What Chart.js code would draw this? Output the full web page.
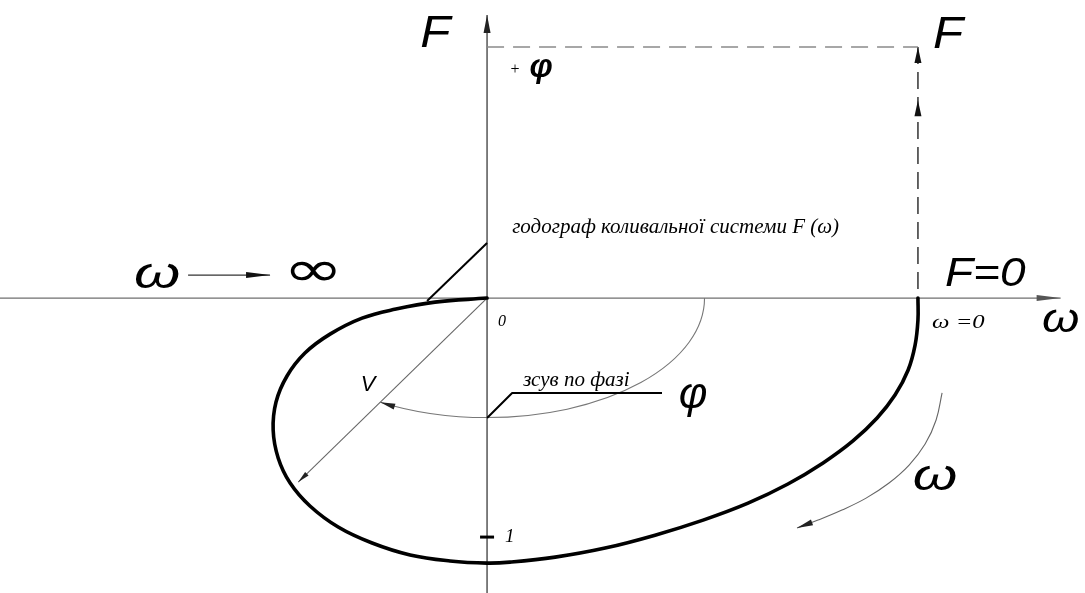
<!DOCTYPE html>
<html lang="uk">
<head>
<meta charset="utf-8">
<title>Годограф коливальної системи</title>
<script src="https://cdn.jsdelivr.net/npm/chart.js@4.4.1/dist/chart.umd.min.js"></script>
<style>
  html, body { margin: 0; padding: 0; background: #ffffff; }
  #wrap { position: relative; width: 1085px; height: 593px; }
</style>
</head>
<body>
<div id="wrap"><canvas id="hodograph"></canvas></div>
<script>
// Hodograph F(jω) of the oscillating system, traced from ω = 0
// (on the positive real axis) to ω → ∞ (the origin).
const hodographRe = [1.803, 1.803, 1.791, 1.762, 1.707, 1.632, 1.531, 1.406, 1.259, 1.092, 0.904,
                     0.703, 0.494, 0.285, 0.096, 0.000,
                     -0.155, -0.322, -0.481, -0.623, -0.741, -0.824, -0.874, -0.895, -0.883,
                     -0.837, -0.762, -0.657, -0.523, -0.381, -0.218, 0.000];
const hodographIm = [0.000, -0.092, -0.197, -0.301, -0.406, -0.502, -0.598, -0.690, -0.778, -0.858, -0.929,
                     -0.992, -1.046, -1.084, -1.105, -1.109,
                     -1.100, -1.075, -1.025, -0.958, -0.870, -0.774, -0.669, -0.552, -0.435,
                     -0.326, -0.230, -0.151, -0.084, -0.046, -0.017, 0.000];

// Arc beside the curve showing the direction of increasing ω
const omegaArcRe = [1.904, 1.879, 1.833, 1.766, 1.682, 1.586, 1.485, 1.385, 1.297];
const omegaArcIm = [-0.397, -0.510, -0.611, -0.699, -0.774, -0.837, -0.887, -0.929, -0.962];

// F at ω = 0 and its projection onto the vertical axis
const fAtZero = 1.803;
const fProjection = 1.05;

// Radius vector V to a point of the hodograph
const vectorV = [-0.79, -0.77];

// Unit mark on the imaginary axis
const unitTicks = [-1];
const unitTickLabels = ['1'];

const pts = (xs, ys) => xs.map((x, i) => ({ x, y: ys[i] }));

const BIG = 'italic 400 44px "Liberation Sans"';
const SERIF = 'italic 400 21px "Liberation Serif"';

function arrowHead(ctx, tx, ty, fx, fy, len, half, color) {
  const a = Math.atan2(ty - fy, tx - fx);
  ctx.save();
  ctx.translate(tx, ty);
  ctx.rotate(a);
  ctx.fillStyle = color;
  ctx.beginPath();
  ctx.moveTo(0, 0);
  ctx.lineTo(-len, -half);
  ctx.lineTo(-len, half);
  ctx.closePath();
  ctx.fill();
  ctx.restore();
}

function line(ctx, coords, color, width) {
  ctx.save();
  ctx.strokeStyle = color;
  ctx.lineWidth = width;
  ctx.lineJoin = 'round';
  ctx.beginPath();
  coords.forEach(([x, y], i) => (i ? ctx.lineTo(x, y) : ctx.moveTo(x, y)));
  ctx.stroke();
  ctx.restore();
}

// Axes with arrows, the phase arc, leader lines and all captions
const diagramPlugin = {
  id: 'diagram',
  beforeDatasetsDraw(chart, args, o) {
    const { ctx } = chart;
    const X = v => chart.scales.x.getPixelForValue(v);
    const Y = v => chart.scales.y.getPixelForValue(v);

    // real axis
    line(ctx, [[X(chart.scales.x.min), Y(0)], [X(o.axisEnd[0]), Y(0)]], '#6f6f6f', 1.3);
    arrowHead(ctx, X(o.axisEnd[0]), Y(0), X(0), Y(0), 24, 3, '#555');
    // imaginary axis
    line(ctx, [[X(0), Y(chart.scales.y.min)], [X(0), Y(o.axisEnd[1])]], '#555', 1.5);
    arrowHead(ctx, X(0), Y(o.axisEnd[1]), X(0), Y(0), 18, 3.5, '#222');

    // phase shift arc from the real axis to the vector V
    const cx = X(0), cy = Y(0);
    const rx = X(o.phaseArc[0]) - cx, ry = Y(-o.phaseArc[1]) - cy;
    const vx = X(vectorV[0]) - cx, vy = Y(vectorV[1]) - cy;
    const end = Math.atan2(vy * rx, vx * ry);
    ctx.save();
    ctx.strokeStyle = '#777';
    ctx.lineWidth = 1.1;
    ctx.beginPath();
    ctx.ellipse(cx, cy, rx, ry, 0, 0, end);
    ctx.stroke();
    ctx.restore();
    const ex = cx + rx * Math.cos(end), ey = cy + ry * Math.sin(end);
    const tx = -rx * Math.sin(end), ty = ry * Math.cos(end);
    arrowHead(ctx, ex, ey, ex - tx, ey - ty, 15, 3, '#222');
  },
  afterDatasetsDraw(chart, args, o) {
    const { ctx } = chart;
    const X = v => chart.scales.x.getPixelForValue(v);
    const Y = v => chart.scales.y.getPixelForValue(v);

    // arrows on the F vector
    o.fArrows.forEach(v => arrowHead(ctx, X(fAtZero), Y(v), X(fAtZero), Y(0), 16, 3.5, '#111'));

    // arrow of the ω arc
    const n = omegaArcRe.length;
    arrowHead(ctx, X(omegaArcRe[n - 1]), Y(omegaArcIm[n - 1]),
              X(omegaArcRe[n - 2]), Y(omegaArcIm[n - 2]), 16, 3, '#222');

    // arrow at the end of V
    arrowHead(ctx, X(vectorV[0]), Y(vectorV[1]), X(0), Y(0), 12, 2.5, '#222');

    // ω → ∞ arrow
    const a = o.infArrow;
    line(ctx, [[X(a[0]), Y(a[2])], [X(a[1]), Y(a[2])]], '#333', 1.2);
    arrowHead(ctx, X(a[1]), Y(a[2]), X(a[0]), Y(a[2]), 24, 3, '#111');

    // leader lines
    o.leaders.forEach(l => line(ctx, l.map(([x, y]) => [X(x), Y(y)]), '#000', 2));

    // unit mark
    unitTicks.forEach(t => line(ctx, [[X(0) - 7, Y(t)], [X(0) + 7, Y(t)]], '#000', 3));

    // captions
    o.labels.forEach(l => {
      ctx.save();
      ctx.font = l.font;
      ctx.fillStyle = '#000';
      ctx.textAlign = l.align || 'left';
      ctx.textBaseline = l.baseline || 'alphabetic';
      ctx.translate(X(l.x), Y(l.y));
      ctx.scale(l.sx || 1, l.sy || 1);
      ctx.fillText(l.text, 0, 0);
      ctx.restore();
    });
    unitTicks.forEach((t, i) => {
      ctx.save();
      ctx.font = 'italic 400 19px "Liberation Serif"';
      ctx.fillStyle = '#000';
      ctx.textBaseline = 'middle';
      ctx.fillText(unitTickLabels[i], X(0) + 18, Y(t));
      ctx.restore();
    });
  }
};

new Chart(document.getElementById('hodograph'), {
  type: 'scatter',
  data: {
    datasets: [
      { // hodograph F(ω)
        data: pts(hodographRe, hodographIm),
        showLine: true, tension: 0.4, borderColor: '#000', borderWidth: 3.6,
        pointRadius: 0, borderCapStyle: 'round'
      },
      { // direction of increasing ω
        data: pts(omegaArcRe, omegaArcIm),
        showLine: true, tension: 0.4, borderColor: '#666', borderWidth: 1.1, pointRadius: 0
      },
      { // projection of F
        data: [{ x: 0, y: fProjection }, { x: fAtZero, y: fProjection }],
        showLine: true, borderColor: '#8a8a8a', borderWidth: 1.5, borderDash: [17, 9], pointRadius: 0
      },
      { // vector F at ω = 0
        data: [{ x: fAtZero, y: fProjection }, { x: fAtZero, y: 0 }],
        showLine: true, borderColor: '#333', borderWidth: 1.5, borderDash: [17, 8], pointRadius: 0
      },
      { // radius vector V
        data: [{ x: 0, y: 0 }, { x: vectorV[0], y: vectorV[1] }],
        showLine: true, borderColor: '#666', borderWidth: 1.1, pointRadius: 0
      }
    ]
  },
  options: {
    responsive: true,
    maintainAspectRatio: false,
    animation: false,
    events: [],
    layout: { padding: 0 },
    scales: {
      x: { type: 'linear', display: false, min: -2.038, max: 2.502 },
      y: { type: 'linear', display: false, min: -1.234, max: 1.247 }
    },
    plugins: {
      legend: { display: false },
      tooltip: { enabled: false },
      diagram: {
        axisEnd: [2.40, 1.184],
        phaseArc: [0.91, 0.50],
        fArrows: [fProjection, 0.828],
        infArrow: [-1.251, -0.908, 0.096],
        leaders: [
          [[-0.251, -0.012], [0, 0.230]],
          [[0, -0.502], [0.105, -0.397], [0.732, -0.397]]
        ],
        labels: [
          { text: 'F', x: -0.280, y: 1.050, font: BIG, sx: 1.12 },
          { text: 'F', x: 1.866, y: 1.046, font: BIG, sx: 1.12 },
          { text: '+', x: 0.117, y: 0.954, font: '400 16px "Liberation Serif"', align: 'center', baseline: 'middle' },
          { text: 'φ', x: 0.226, y: 0.962, font: 'italic 700 33px "Liberation Sans"', align: 'center', baseline: 'middle' },
          { text: 'годограф коливальної системи F (ω)', x: 0.105, y: 0.272, font: SERIF },
          { text: 'ω', x: -1.381, y: 0.092, font: BIG, align: 'center', baseline: 'middle', sx: 1.35 },
          { text: '∞', x: -0.728, y: 0.105, font: '400 50px "DejaVu Sans"', align: 'center', baseline: 'middle', sx: 1.45 },
          { text: 'F=0', x: 1.916, y: 0.050, font: 'italic 400 40px "Liberation Sans"', sx: 1.15 },
          { text: 'ω =0', x: 1.862, y: -0.126, font: 'italic 400 19px "Liberation Serif"', sx: 1.3 },
          { text: 'ω', x: 2.322, y: -0.096, font: 'italic 400 40px "Liberation Sans"', baseline: 'middle', sx: 1.2 },
          { text: '0', x: 0.046, y: -0.117, font: 'italic 400 16px "Liberation Serif"' },
          { text: 'зсув по фазі', x: 0.151, y: -0.368, font: SERIF },
          { text: 'φ', x: 0.862, y: -0.410, font: 'italic 400 44px "Liberation Sans"', align: 'center', baseline: 'middle' },
          { text: 'V', x: -0.498, y: -0.364, font: 'italic 400 22px "Liberation Sans"', align: 'center', baseline: 'middle' },
          { text: 'ω', x: 1.874, y: -0.753, font: BIG, align: 'center', baseline: 'middle', sx: 1.3 }
        ]
      }
    }
  },
  plugins: [diagramPlugin]
});
</script>
</body>
</html>
